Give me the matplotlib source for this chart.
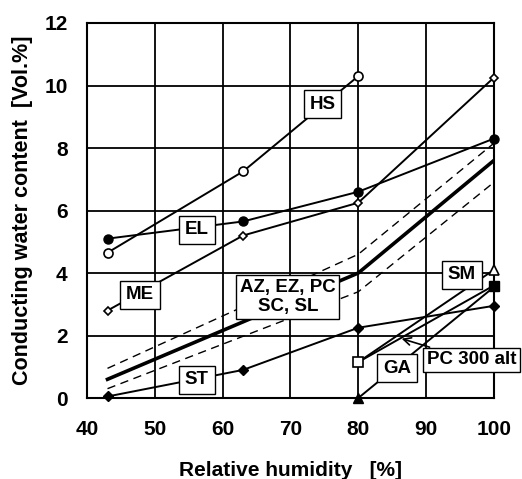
import matplotlib
matplotlib.use("Agg")
import matplotlib.pyplot as plt

plt.rcParams['font.family'] = ['Liberation Sans', 'DejaVu Sans']
plt.rcParams['font.weight'] = 'bold'

# Data
hs_x = [43, 63, 80]
hs_y = [4.65, 7.25, 10.3]
me_x = [43, 63, 80, 100]
me_y = [2.8, 5.2, 6.25, 10.25]
el_x = [43, 63, 80, 100]
el_y = [5.1, 5.65, 6.6, 8.3]
st_x = [43, 63, 80, 100]
st_y = [0.05, 0.9, 2.25, 2.95]
az_x = [43, 80, 100]
az_y = [0.6, 4.0, 7.6]
az_hi_y = [0.95, 4.6, 8.15]
az_lo_y = [0.3, 3.4, 6.9]
sm_x = [80, 100]
sm_y = [1.15, 4.1]
pc_x = [80, 100]
pc_y = [1.15, 3.6]
ga_x = [80, 100]
ga_y = [0.0, 3.55]

xticks = [40, 50, 60, 70, 80, 90, 100]
yticks = [0, 2, 4, 6, 8, 10, 12]

fig = plt.figure(figsize=(5.22, 4.79), dpi=100)
ax = fig.add_axes([0.167, 0.169, 0.779, 0.783])

lw = 1.4
kw = dict(zorder=4, clip_on=False)
ax.plot(hs_x, hs_y, '-', color='k', lw=lw, marker='o', mfc='white', mec='k', ms=6.5, mew=1.2, **kw)
ax.plot(me_x, me_y, '-', color='k', lw=lw, marker='D', mfc='white', mec='k', ms=4.5, mew=1.2, **kw)
ax.plot(el_x, el_y, '-', color='k', lw=lw, marker='o', mfc='k', mec='k', ms=6.5, **kw)
ax.plot(st_x, st_y, '-', color='k', lw=lw, marker='D', mfc='k', mec='k', ms=5, **kw)
ax.plot(az_x, az_y, '-', color='k', lw=2.6, zorder=3)
ax.plot(az_x, az_hi_y, '--', color='k', lw=1.0, dashes=(6, 4), zorder=3)
ax.plot(az_x, az_lo_y, '--', color='k', lw=1.0, dashes=(6, 4), zorder=3)
ax.plot(sm_x, sm_y, '-', color='k', lw=lw, zorder=3)
ax.plot(sm_x[1:], sm_y[1:], '^', mfc='white', mec='k', ms=7, mew=1.2, **kw)
ax.plot(pc_x, pc_y, '-', color='k', lw=lw, zorder=3)
ax.plot(pc_x[1:], pc_y[1:], 's', mfc='k', mec='k', ms=6.5, **kw)
ax.plot(pc_x[:1], pc_y[:1], 's', mfc='white', mec='k', ms=6.5, mew=1.2, **kw)
ax.plot(ga_x, ga_y, '-', color='k', lw=lw, zorder=3)
ax.plot(ga_x[:1], ga_y[:1], '^', mfc='k', mec='k', ms=7, **kw)

box = dict(boxstyle='square,pad=0.3', fc='white', ec='k', lw=1.0)
fs = 13.5
ax.text(74.7, 9.4, 'HS', ha='center', va='center', fontsize=fs, fontweight='bold', bbox=box, zorder=5)
ax.text(56.2, 5.38, 'EL', ha='center', va='center', fontsize=fs, fontweight='bold', bbox=box, zorder=5)
ax.text(47.8, 3.3, 'ME', ha='center', va='center', fontsize=fs, fontweight='bold', bbox=box, zorder=5)
ax.text(69.6, 3.24, 'AZ, EZ, PC\nSC, SL', ha='center', va='center', fontsize=fs,
        fontweight='bold', linespacing=1.15,
        bbox=dict(boxstyle='square,pad=0.2', fc='white', ec='k', lw=1.0), zorder=5)
ax.text(56.2, 0.58, 'ST', ha='center', va='center', fontsize=fs, fontweight='bold', bbox=box, zorder=5)
ax.text(95.3, 3.94, 'SM', ha='center', va='center', fontsize=fs, fontweight='bold', bbox=box, zorder=5)
ax.text(85.7, 0.95, 'GA', ha='center', va='center', fontsize=fs, fontweight='bold', bbox=box, zorder=5)
ax.annotate('PC 300 alt', xy=(86.4, 1.9), xytext=(96.7, 1.22), ha='center', va='center',
            fontsize=fs, fontweight='bold',
            bbox=dict(boxstyle='square,pad=0.2', fc='white', ec='k', lw=1.0),
            zorder=5, annotation_clip=False,
            arrowprops=dict(arrowstyle='->', color='k', lw=1.2, shrinkA=0, shrinkB=0))

ax.set_xlim(40, 100)
ax.set_ylim(0, 12)
ax.set_xticks(xticks)
ax.set_yticks(yticks)
ax.grid(True, color='k', lw=1.3)
ax.set_axisbelow(True)
for s in ax.spines.values():
    s.set_linewidth(1.5)
ax.tick_params(length=0, labelsize=15)
ax.tick_params(axis='x', pad=16)
ax.tick_params(axis='y', pad=14)
for lab in ax.get_xticklabels() + ax.get_yticklabels():
    lab.set_fontweight('bold')
ax.set_xlabel('Relative humidity   [%]', fontsize=15, fontweight='bold', labelpad=16)
ax.set_ylabel('Conducting water content  [Vol.%]', fontsize=15.5, fontweight='bold', labelpad=8)

fig.savefig('out.png', dpi=100)
